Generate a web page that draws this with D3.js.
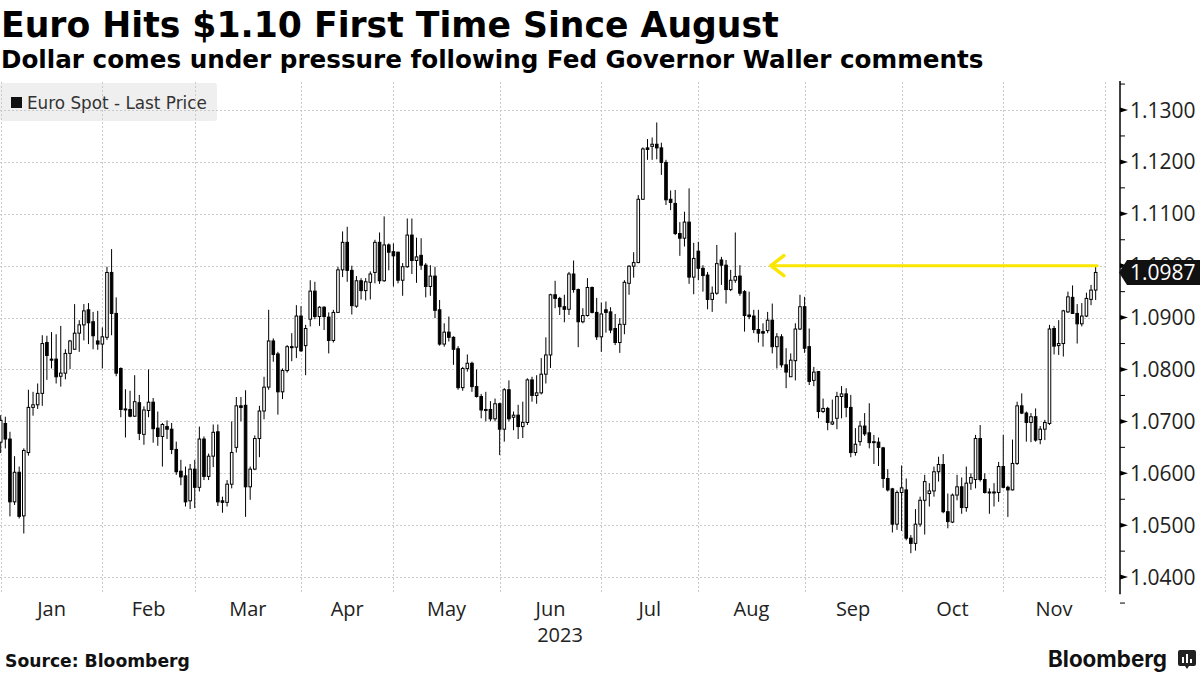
<!DOCTYPE html>
<html><head><meta charset="utf-8">
<script src="https://cdn.jsdelivr.net/npm/d3@7"></script>
<style>body{margin:0;background:#fff}svg{display:block}</style>
</head><body>
<svg id="c" width="1200" height="675"></svg>
<script>
// ---------- DATA (Euro spot, daily OHLC, Dec 30 2022 .. Nov 28 2023) ----------
const opens = [1.0660,1.0696,1.0666,1.0545,1.0602,1.0518,1.0640,1.0727,1.0732,1.0754,1.0852,1.0820,1.0820,1.0787,1.0793,1.0831,1.0839,1.0870,1.0886,1.0915,1.0892,1.0855,1.0849,1.0862,1.0987,1.0908,1.0802,1.0723,1.0723,1.0710,1.0736,1.0675,1.0721,1.0737,1.0687,1.0671,1.0690,1.0685,1.0646,1.0604,1.0595,1.0547,1.0608,1.0573,1.0666,1.0594,1.0633,1.0680,1.0547,1.0544,1.0579,1.0650,1.0730,1.0731,1.0574,1.0608,1.0667,1.0720,1.0766,1.0855,1.0830,1.0757,1.0798,1.0844,1.0843,1.0903,1.0846,1.0897,1.0951,1.0902,1.0920,1.0901,1.0856,1.0910,1.0992,1.1045,1.0991,1.0922,1.0971,1.0952,1.0968,1.0987,1.1045,1.0971,1.1040,1.1027,1.1026,1.0972,1.0998,1.1059,1.1010,1.1020,1.1001,1.0960,1.0980,1.0915,1.0849,1.0872,1.0862,1.0840,1.0765,1.0802,1.0812,1.0767,1.0748,1.0722,1.0723,1.0705,1.0734,1.0685,1.0761,1.0708,1.0712,1.0690,1.0698,1.0780,1.0750,1.0755,1.0791,1.0828,1.0944,1.0937,1.0921,1.0916,1.0984,1.0954,1.0892,1.0904,1.0958,1.0910,1.0863,1.0915,1.0911,1.0879,1.0852,1.0887,1.0966,1.0999,1.1006,1.1128,1.1227,1.1230,1.1234,1.1227,1.1199,1.1128,1.1120,1.1062,1.1053,1.1084,1.0978,1.1028,1.0995,1.0982,1.0935,1.0947,1.1011,1.1001,1.0954,1.0972,1.0980,1.0950,1.0905,1.0903,1.0877,1.0873,1.0875,1.0895,1.0844,1.0863,1.0809,1.0786,1.0817,1.0878,1.0921,1.0844,1.0779,1.0796,1.0719,1.0725,1.0695,1.0706,1.0748,1.0753,1.0727,1.0640,1.0661,1.0691,1.0678,1.0660,1.0660,1.0649,1.0590,1.0570,1.0502,1.0563,1.0568,1.0475,1.0465,1.0502,1.0548,1.0561,1.0566,1.0603,1.0617,1.0526,1.0506,1.0558,1.0574,1.0534,1.0581,1.0588,1.0667,1.0588,1.0563,1.0564,1.0563,1.0613,1.0573,1.0568,1.0619,1.0730,1.0716,1.0698,1.0709,1.0665,1.0685,1.0696,1.0879,1.0846,1.0850,1.0911,1.0939,1.0908,1.0888,1.0903,1.0935,1.0953];
const highs = [1.0712,1.0709,1.0680,1.0633,1.0613,1.0648,1.0761,1.0757,1.0773,1.0866,1.0865,1.0872,1.0868,1.0884,1.0839,1.0857,1.0926,1.0895,1.0926,1.0928,1.0911,1.0913,1.0881,1.0998,1.1032,1.0939,1.0804,1.0762,1.0759,1.0789,1.0751,1.0729,1.0800,1.0745,1.0719,1.0697,1.0702,1.0697,1.0661,1.0626,1.0613,1.0618,1.0626,1.0690,1.0671,1.0638,1.0694,1.0694,1.0555,1.0587,1.0700,1.0747,1.0747,1.0760,1.0613,1.0673,1.0730,1.0786,1.0915,1.0860,1.0834,1.0802,1.0847,1.0870,1.0924,1.0922,1.0886,1.0972,1.0969,1.0922,1.0922,1.0910,1.0915,1.0998,1.1066,1.1075,1.1000,1.0980,1.0976,1.0976,1.0989,1.1050,1.1064,1.1095,1.1043,1.1043,1.1027,1.1005,1.1091,1.1091,1.1054,1.1053,1.1005,1.1001,1.0998,1.0934,1.0889,1.0902,1.0864,1.0845,1.0805,1.0829,1.0815,1.0800,1.0753,1.0757,1.0739,1.0744,1.0736,1.0764,1.0779,1.0719,1.0732,1.0738,1.0783,1.0786,1.0789,1.0822,1.0862,1.0946,1.0971,1.0940,1.0944,1.0988,1.1010,1.0956,1.0918,1.0976,1.0960,1.0938,1.0929,1.0931,1.0920,1.0907,1.0899,1.0972,1.1001,1.1026,1.1136,1.1228,1.1244,1.1247,1.1276,1.1237,1.1204,1.1145,1.1146,1.1084,1.1104,1.1149,1.1044,1.1046,1.1001,1.0988,1.0960,1.1040,1.1017,1.1011,1.0992,1.1064,1.1001,1.0953,1.0950,1.0915,1.0915,1.0889,1.0911,1.0927,1.0870,1.0868,1.0841,1.0831,1.0889,1.0944,1.0940,1.0879,1.0805,1.0796,1.0744,1.0728,1.0742,1.0757,1.0768,1.0764,1.0751,1.0687,1.0701,1.0716,1.0735,1.0674,1.0669,1.0651,1.0608,1.0572,1.0567,1.0615,1.0590,1.0481,1.0531,1.0555,1.0597,1.0581,1.0613,1.0632,1.0637,1.0561,1.0561,1.0597,1.0592,1.0613,1.0600,1.0674,1.0693,1.0600,1.0571,1.0581,1.0622,1.0674,1.0576,1.0665,1.0738,1.0754,1.0719,1.0716,1.0725,1.0691,1.0703,1.0886,1.0884,1.0895,1.0915,1.0950,1.0962,1.0926,1.0928,1.0948,1.0963,1.1001];
const lows = [1.0639,1.0648,1.0517,1.0539,1.0513,1.0484,1.0634,1.0711,1.0724,1.0730,1.0780,1.0802,1.0773,1.0767,1.0781,1.0801,1.0838,1.0834,1.0856,1.0849,1.0839,1.0838,1.0802,1.0857,1.0866,1.0787,1.0708,1.0669,1.0708,1.0709,1.0664,1.0655,1.0708,1.0659,1.0653,1.0613,1.0666,1.0637,1.0597,1.0577,1.0536,1.0531,1.0533,1.0565,1.0587,1.0587,1.0612,1.0537,1.0524,1.0536,1.0571,1.0640,1.0700,1.0516,1.0549,1.0606,1.0631,1.0704,1.0761,1.0815,1.0713,1.0743,1.0794,1.0816,1.0822,1.0834,1.0789,1.0883,1.0897,1.0884,1.0876,1.0831,1.0852,1.0910,1.0978,1.0969,1.0906,1.0919,1.0935,1.0933,1.0935,1.0966,1.0965,1.0969,1.0991,1.0960,1.0966,1.0942,1.0996,1.0984,1.0967,1.0992,1.0939,1.0942,1.0899,1.0846,1.0844,1.0854,1.0809,1.0761,1.0759,1.0796,1.0757,1.0746,1.0706,1.0700,1.0700,1.0700,1.0635,1.0661,1.0700,1.0683,1.0666,1.0668,1.0693,1.0738,1.0734,1.0752,1.0773,1.0803,1.0918,1.0905,1.0891,1.0905,1.0948,1.0843,1.0889,1.0902,1.0908,1.0857,1.0834,1.0871,1.0870,1.0847,1.0832,1.0868,1.0944,1.0977,1.1005,1.1127,1.1204,1.1204,1.1205,1.1175,1.1117,1.1107,1.1059,1.1019,1.1037,1.0965,1.0945,1.0972,1.0950,1.0916,1.0911,1.0944,1.0963,1.0927,1.0951,1.0967,1.0942,1.0873,1.0897,1.0870,1.0852,1.0844,1.0870,1.0831,1.0802,1.0804,1.0764,1.0786,1.0779,1.0876,1.0832,1.0770,1.0768,1.0706,1.0716,1.0683,1.0693,1.0685,1.0706,1.0708,1.0631,1.0634,1.0653,1.0672,1.0648,1.0618,1.0614,1.0572,1.0565,1.0486,1.0491,1.0489,1.0471,1.0446,1.0451,1.0497,1.0482,1.0536,1.0555,1.0584,1.0523,1.0494,1.0504,1.0548,1.0522,1.0526,1.0568,1.0571,1.0584,1.0561,1.0522,1.0536,1.0545,1.0571,1.0516,1.0567,1.0616,1.0714,1.0661,1.0660,1.0661,1.0656,1.0664,1.0693,1.0829,1.0828,1.0825,1.0909,1.0907,1.0850,1.0883,1.0901,1.0924,1.0934];
const closes = [1.0702,1.0666,1.0545,1.0602,1.0517,1.0644,1.0727,1.0732,1.0754,1.0850,1.0827,1.0818,1.0786,1.0793,1.0831,1.0855,1.0870,1.0886,1.0913,1.0890,1.0865,1.0849,1.0863,1.0987,1.0908,1.0793,1.0723,1.0724,1.0710,1.0738,1.0677,1.0722,1.0737,1.0686,1.0671,1.0694,1.0685,1.0646,1.0603,1.0593,1.0545,1.0608,1.0573,1.0666,1.0594,1.0633,1.0679,1.0545,1.0544,1.0579,1.0640,1.0730,1.0727,1.0574,1.0608,1.0667,1.0720,1.0766,1.0855,1.0829,1.0757,1.0798,1.0844,1.0843,1.0903,1.0836,1.0879,1.0951,1.0902,1.0920,1.0902,1.0856,1.0910,1.0992,1.1045,1.0991,1.0923,1.0971,1.0952,1.0969,1.0984,1.1045,1.0971,1.1040,1.1026,1.1019,1.0972,1.0998,1.1059,1.1010,1.1017,1.1001,1.0960,1.0980,1.0914,1.0849,1.0872,1.0862,1.0839,1.0765,1.0802,1.0812,1.0767,1.0748,1.0722,1.0723,1.0705,1.0734,1.0685,1.0761,1.0705,1.0712,1.0690,1.0698,1.0780,1.0750,1.0755,1.0791,1.0828,1.0944,1.0937,1.0921,1.0916,1.0984,1.0954,1.0892,1.0904,1.0958,1.0910,1.0863,1.0907,1.0910,1.0876,1.0852,1.0887,1.0968,1.0999,1.1006,1.1128,1.1225,1.1224,1.1234,1.1227,1.1199,1.1127,1.1122,1.1062,1.1053,1.1084,1.0978,1.1014,1.0995,1.0981,1.0935,1.0947,1.1004,1.1001,1.0954,1.0972,1.0979,1.0947,1.0904,1.0902,1.0877,1.0870,1.0870,1.0895,1.0844,1.0863,1.0809,1.0795,1.0818,1.0878,1.0921,1.0841,1.0777,1.0795,1.0719,1.0725,1.0698,1.0699,1.0748,1.0753,1.0727,1.0640,1.0656,1.0691,1.0676,1.0659,1.0661,1.0650,1.0590,1.0568,1.0502,1.0563,1.0572,1.0475,1.0465,1.0502,1.0548,1.0584,1.0566,1.0603,1.0617,1.0526,1.0507,1.0558,1.0574,1.0534,1.0581,1.0592,1.0667,1.0588,1.0563,1.0564,1.0563,1.0613,1.0573,1.0568,1.0619,1.0730,1.0716,1.0698,1.0709,1.0664,1.0685,1.0698,1.0878,1.0845,1.0850,1.0913,1.0940,1.0908,1.0888,1.0903,1.0937,1.0953,1.0987];
const yTicks = [1.04,1.05,1.06,1.07,1.08,1.09,1.10,1.11,1.12,1.13];
const yMinorTicks = [1.035,1.045,1.055,1.065,1.075,1.085,1.095,1.105,1.115,1.125,1.135];
const monthLabels = ["Jan","Feb","Mar","Apr","May","Jun","Jul","Aug","Sep","Oct","Nov"];
const yearLabel = "2023";
const lastPrice = 1.0987;
const annotLevel = 1.10;       // yellow arrow level
const annotFromDay = 166.7;    // trading-day position where the arrow points (late Aug)
const yDomainAxis = [1.0369, 1.1354];

// ---------- SETUP ----------
const svg = d3.select("#c");
svg.append("rect").attr("width",1200).attr("height",675).attr("fill","#fff");

// trading days (weekdays) from Dec 30 2022 through Nov 30 2023
const days = d3.timeDays(new Date(2022,11,30), new Date(2023,11,1)).filter(d => d.getDay() % 6 !== 0);
const x = d3.scaleLinear().domain([0, days.length - 1]).range([0.7, 1104.9]);
const y = d3.scaleLinear().domain([1.04, 1.13]).range([577.1, 110]);

// month-end indices
const monthEnds = [];
days.forEach((d, i) => {
  if (i === days.length - 1 || days[i + 1].getMonth() !== d.getMonth()) monthEnds.push(i);
});

const gridTop = y(yDomainAxis[1]), gridBottom = y(yDomainAxis[0]);

// legend box (under grid)
const leg = svg.append("g");
leg.append("rect").attr("x",0).attr("y",83).attr("width",217).attr("height",38).attr("rx",3).attr("fill","#efefef");

// grid
const grid = svg.append("g").attr("stroke","#c9c9c9").attr("stroke-width",1).attr("stroke-dasharray","2,2").attr("fill","none");
grid.selectAll("line.h").data(yTicks).join("line").attr("class","h")
  .attr("x1",0).attr("x2",1105).attr("y1",d=>Math.round(y(d))+0.5).attr("y2",d=>Math.round(y(d))+0.5);
grid.selectAll("line.v").data(monthEnds).join("line").attr("class","v")
  .attr("x1",d=>Math.round(x(d))+0.5).attr("x2",d=>Math.round(x(d))+0.5).attr("y1",gridTop).attr("y2",gridBottom);

leg.append("rect").attr("x",11).attr("y",97).attr("width",11).attr("height",11).attr("fill","#111");
const legText = leg.append("text").attr("x",27).attr("y",109).attr("font-family","DejaVu Sans").attr("font-size",15).attr("fill","#333").text("Euro Spot - Last Price");

// candles
const candles = svg.append("g");
const n = closes.length;
const idx = d3.range(n);
candles.selectAll("line").data(idx).join("line")
  .attr("x1",i=>x(i)).attr("x2",i=>x(i)).attr("y1",i=>y(highs[i])).attr("y2",i=>y(lows[i]))
  .attr("stroke","#000").attr("stroke-width",1);
candles.selectAll("rect").data(idx).join("rect")
  .attr("x",i=>x(i)-1.3).attr("width",2.6)
  .attr("y",i=>Math.min(y(opens[i]),y(closes[i])))
  .attr("height",i=>Math.max(1,Math.abs(y(opens[i])-y(closes[i]))))
  .attr("fill",i=>closes[i]>=opens[i]?"#fff":"#000")
  .attr("stroke","#000").attr("stroke-width",1);

// yellow annotation arrow
const ay = y(annotLevel);
const ax0 = x(annotFromDay), ax1 = x(n - 1) + 1.5;
const ann = svg.append("g").attr("stroke","#fae600").attr("fill","none").attr("stroke-linecap","round");
ann.append("line").attr("x1",ax0+1).attr("x2",ax1).attr("y1",ay).attr("y2",ay).attr("stroke-width",3);
ann.append("path").attr("d",`M${ax0+13},${ay-10}L${ax0},${ay}L${ax0+13},${ay+10}`).attr("stroke-width",3.5).attr("stroke-linejoin","round");

// right axis
const axisX = 1120;
const py = y(lastPrice);
const flagTop = py - 12.5;
svg.append("defs").append("clipPath").attr("id","aboveFlag")
  .append("rect").attr("x",axisX).attr("y",0).attr("width",80).attr("height",flagTop);
const ax = svg.append("g").attr("transform",`translate(${axisX},0)`);
ax.append("line").attr("x1",0).attr("x2",0).attr("y1",gridTop-1).attr("y2",gridBottom+1).attr("stroke","#000").attr("stroke-width",1.5);
ax.selectAll("line.minor").data(yMinorTicks).join("line").attr("class","minor")
  .attr("x1",0).attr("x2",5).attr("y1",d=>y(d)).attr("y2",d=>y(d)).attr("stroke","#000").attr("stroke-width",1);
ax.selectAll("path.major").data(yTicks).join("path").attr("class","major")
  .attr("d",d=>`M0,${y(d)-2.5}L8,${y(d)}L0,${y(d)+2.5}Z`).attr("fill","#000");
const fmt = d3.format(".4f");
// tick labels; the one hidden behind the last-price flag only peeks out above it
svg.append("g").selectAll("text").data(yTicks).join("text")
  .attr("x",axisX+10).attr("y",d=>y(d)).attr("dy","0.36em")
  .attr("clip-path",d=>Math.abs(y(d)-py) < 20 ? "url(#aboveFlag)" : null)
  .attr("font-family","Open Sans").attr("font-size",21).attr("fill","#222").text(fmt);

// last price flag
svg.append("path").attr("d",`M${axisX-1},${py}L${axisX+7},${py-12.5}L1200,${py-12.5}L1200,${py+12.5}L${axisX+7},${py+12.5}Z`).attr("fill","#111");
svg.append("text").attr("x",axisX+10).attr("y",py).attr("dy","0.36em").attr("font-family","Open Sans").attr("font-size",21).attr("fill","#fff").text(fmt(lastPrice));

// month labels
const mg = svg.append("g").attr("font-family","Open Sans").attr("font-size",20).attr("fill","#222").attr("text-anchor","middle");
monthLabels.forEach((m,k) => {
  const cx = (x(monthEnds[k]) + x(monthEnds[k+1])) / 2;
  mg.append("text").attr("x",cx).attr("y",616).text(m);
});
mg.append("text").attr("x",560).attr("y",642).text(yearLabel);

// titles
function fit(sel, w){ const cur = sel.node().getComputedTextLength(); sel.attr("font-size", parseFloat(sel.attr("font-size"))*w/cur); }
const t1 = svg.append("text").attr("x",1).attr("y",37).attr("font-family","DejaVu Sans").attr("font-weight","bold").attr("font-size",31).attr("fill","#000").text("Euro Hits $1.10 First Time Since August");
fit(t1, 778);
const t2 = svg.append("text").attr("x",1).attr("y",68).attr("font-family","DejaVu Sans").attr("font-weight","bold").attr("font-size",22).attr("fill","#000").text("Dollar comes under pressure following Fed Governor Waller comments");
fit(t2, 983);
fit(legText, 180);

// footer
const src = svg.append("text").attr("x",5).attr("y",667).attr("font-family","DejaVu Sans").attr("font-weight","bold").attr("font-size",16).attr("fill","#111").text("Source: Bloomberg");
fit(src, 185);
const logo = svg.append("text").attr("x",1048).attr("y",667).attr("font-family","Inter").attr("font-weight","bold").attr("font-size",22).attr("fill","#111").text("Bloomberg");
fit(logo, 119);
const ic = svg.append("g").attr("transform","translate(1178,650)");
ic.append("path").attr("d","M2,0H16Q18,0 18,2V14Q18,16 16,16H11L9,19L7,16H2Q0,16 0,14V2Q0,0 2,0Z").attr("fill","#222");
[[4,7],[8,4],[12,9]].forEach(([bx,by]) => ic.append("rect").attr("x",bx).attr("y",by).attr("width",2).attr("height",13-by).attr("fill","#fff"));
</script>
</body></html>
